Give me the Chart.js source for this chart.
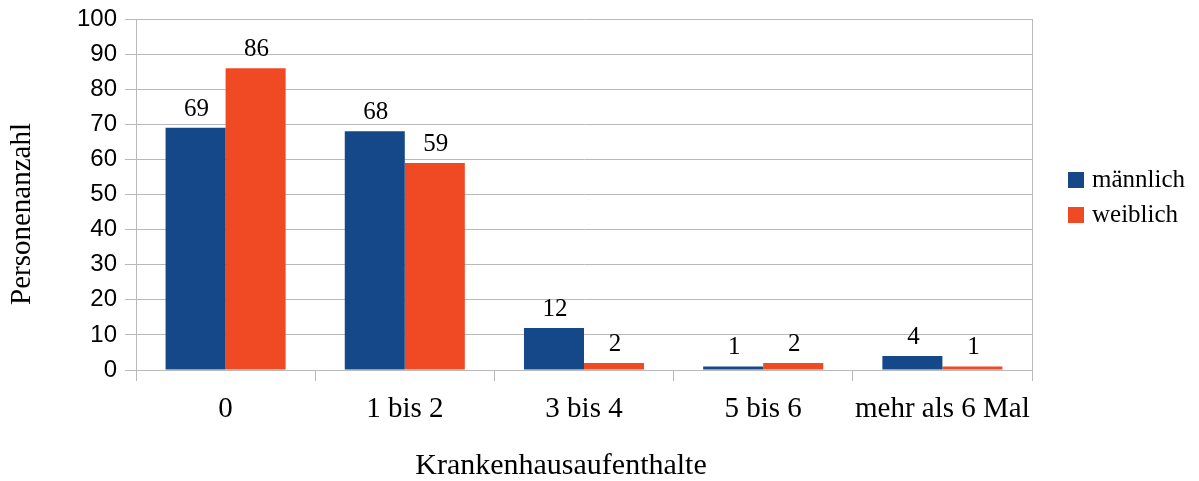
<!DOCTYPE html>
<html>
<head>
<meta charset="utf-8">
<script src="https://cdn.jsdelivr.net/npm/chart.js@4/dist/chart.umd.min.js"></script>
<style>
  html, body { margin: 0; padding: 0; background: #ffffff; }
  canvas { display: block; }
</style>
</head>
<body>
<canvas id="c" width="1199" height="481"></canvas>
<script>
// Hospital stays by sex
const categories = ['0', '1 bis 2', '3 bis 4', '5 bis 6', 'mehr als 6 Mal'];
const maennlich = [69, 68, 12, 1, 4];
const weiblich = [86, 59, 2, 2, 1];
const seriesNames = ['männlich', 'weiblich'];
const seriesColors = ['#154889', '#f04a24'];
const yTicks = [0, 10, 20, 30, 40, 50, 60, 70, 80, 90, 100];
const xTitle = 'Krankenhausaufenthalte';
const yTitle = 'Personenanzahl';

const SERIF = "'Liberation Serif', 'Times New Roman', serif";
const SANS = "'Liberation Sans', Arial, sans-serif";
const GRID = '#b9b9b9';

const decorations = {
  id: 'decorations',
  afterDatasetsDraw(chart) {
    const ctx = chart.ctx;
    ctx.save();
    ctx.fillStyle = '#000';
    ctx.font = '25px ' + SERIF;
    ctx.textAlign = 'center';
    ctx.textBaseline = 'alphabetic';
    chart.data.datasets.forEach((ds, i) => {
      chart.getDatasetMeta(i).data.forEach((el, j) => {
        ctx.fillText(String(ds.data[j]), el.x + 1, el.y - 12);
      });
    });
    ctx.restore();
  },
  afterDraw(chart) {
    const ctx = chart.ctx;
    const a = chart.chartArea;
    ctx.save();
    // right frame line
    ctx.strokeStyle = GRID;
    ctx.lineWidth = 1;
    ctx.beginPath();
    ctx.moveTo(Math.round(a.right) + 0.5, a.top);
    ctx.lineTo(Math.round(a.right) + 0.5, a.bottom);
    ctx.stroke();

    // axis titles
    ctx.fillStyle = '#000';
    ctx.font = '30px ' + SERIF;
    ctx.textAlign = 'center';
    ctx.textBaseline = 'middle';
    ctx.fillText(xTitle, 561, 466);
    ctx.save();
    ctx.translate(22, 214);
    ctx.rotate(-Math.PI / 2);
    ctx.font = '29px ' + SERIF;
    ctx.fillText(yTitle, 0, 0);
    ctx.restore();

    // legend
    ctx.font = '25px ' + SERIF;
    ctx.textAlign = 'left';
    ctx.textBaseline = 'middle';
    chart.data.datasets.forEach((ds, i) => {
      const cy = 180 + i * 35;
      ctx.fillStyle = ds.backgroundColor;
      ctx.fillRect(1068, cy - 8, 16, 16);
      ctx.fillStyle = '#000';
      ctx.fillText(ds.label, 1092, cy);
    });
    ctx.restore();
  }
};

new Chart(document.getElementById('c'), {
  type: 'bar',
  data: {
    labels: categories,
    datasets: [
      { label: seriesNames[0], data: maennlich, backgroundColor: seriesColors[0] },
      { label: seriesNames[1], data: weiblich, backgroundColor: seriesColors[1] }
    ]
  },
  options: {
    responsive: false,
    devicePixelRatio: 1,
    animation: false,
    datasets: { bar: { categoryPercentage: 0.67, barPercentage: 1.0, borderWidth: 0 } },
    layout: { padding: { top: 19, right: 167, left: 0, bottom: 0 } },
    plugins: { legend: { display: false }, tooltip: { enabled: false } },
    scales: {
      x: {
        grid: { offset: true, drawOnChartArea: false, drawTicks: true, tickLength: 11, color: GRID },
        border: { display: true, color: GRID },
        ticks: { color: '#000', font: { family: SERIF, size: 29 }, padding: 11, maxRotation: 0, autoSkip: false },
        afterFit(scale) { scale.height = 111; scale.paddingLeft = 0; scale.paddingRight = 0; }
      },
      y: {
        min: 0,
        max: 100,
        afterBuildTicks(scale) { scale.ticks = yTicks.map(v => ({ value: v })); },
        grid: { color: GRID, tickLength: 11 },
        border: { display: true, color: GRID },
        ticks: { color: '#000', font: { family: SANS, size: 24 }, padding: 8 },
        afterFit(scale) { scale.width = 136; scale.paddingTop = 0; scale.paddingBottom = 0; }
      }
    }
  },
  plugins: [decorations]
});
</script>
</body>
</html>
